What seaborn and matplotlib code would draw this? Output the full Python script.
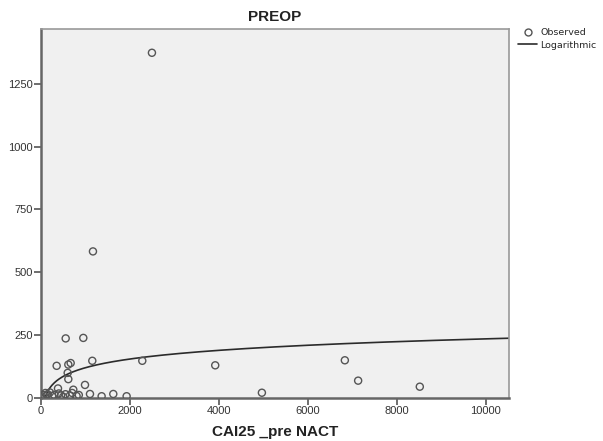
import numpy as np
import pandas as pd
import matplotlib
matplotlib.use("Agg")
import matplotlib.pyplot as plt
from matplotlib.lines import Line2D
import seaborn as sns

cai25_pre_nact = [2494, 1168, 555, 951, 352, 614, 667, 1153, 2277, 3917,
                  614, 600, 989, 382, 726, 4966, 6831, 7130, 8516, 1363,
                  1625, 1925, 1101, 100, 150, 200, 250, 300, 450, 500,
                  550, 650, 700, 800, 850, 50, 400, 128]
preop = [1373, 583, 237, 239, 128, 133, 139, 148, 148, 130,
         75, 100, 52, 38, 33, 21, 150, 69, 45, 7,
         16, 7, 16, 20, 15, 22, 8, 12, 10, 5,
         15, 10, 20, 8, 12, 12, 18, 12]
x_ticks = [0, 2000, 4000, 6000, 8000, 10000]
y_ticks = [0, 250, 500, 750, 1000, 1250]
title = "PREOP"
x_label = "CAI25 _pre NACT"
legend_labels = ["Observed", "Logarithmic"]

sns.set_style("white")
plt.rcParams['font.family'] = ['Liberation Sans', 'DejaVu Sans']

df = pd.DataFrame({"x": cai25_pre_nact, "y": preop})

# logarithmic curve fit (y = a + b ln x) from the observed data
b, a = np.polyfit(np.log(df["x"]), df["y"], 1)
xmax = 10520
grid = np.linspace(20, xmax, 600)
fit = pd.DataFrame({"x": grid, "y": a + b * np.log(grid)})

fig = plt.figure(figsize=(6.03, 4.41), dpi=100)
ax = fig.add_axes([0.068, 0.0975, 0.776, 0.837])
ax.set_facecolor("#f0f0f0")

sns.lineplot(data=fit, x="x", y="y", ax=ax, color="#2b2b2b", linewidth=1.2,
             legend=False)
sns.scatterplot(data=df, x="x", y="y", ax=ax, marker="o", s=26,
                color="none", edgecolor="#555555", linewidth=1.0,
                legend=False, zorder=3)

ax.set_xlim(0, xmax)
ax.set_ylim(0, 1468)
ax.set_xticks(x_ticks)
ax.set_yticks(y_ticks)
ax.set_xlabel(x_label, fontsize=11, fontweight="bold", color="#222",
              labelpad=6)
ax.set_ylabel("")
ax.set_title(title, fontsize=11, fontweight="bold", color="#222", pad=6)

for side in ["left", "bottom"]:
    ax.spines[side].set_color("#666")
    ax.spines[side].set_linewidth(1.8)
for side in ["top", "right"]:
    ax.spines[side].set_color("#999")
    ax.spines[side].set_linewidth(1.2)
ax.tick_params(bottom=True, left=True, direction="out", length=5, width=1.2,
               color="#555", labelcolor="#333", labelsize=8, pad=1)

handles = [Line2D([], [], marker="o", linestyle="none", markersize=5,
                  markerfacecolor="none", markeredgecolor="#555555",
                  markeredgewidth=1.0),
           Line2D([], [], color="#2b2b2b", linewidth=1.2)]
fig.legend(handles, legend_labels, loc="upper left",
           bbox_to_anchor=(0.853, 0.944), frameon=False,
           prop={"family": "DejaVu Sans", "size": 6.8},
           handlelength=2.0, handletextpad=0.35, labelspacing=0.35,
           borderaxespad=0)

fig.savefig("out.png", dpi=100)
